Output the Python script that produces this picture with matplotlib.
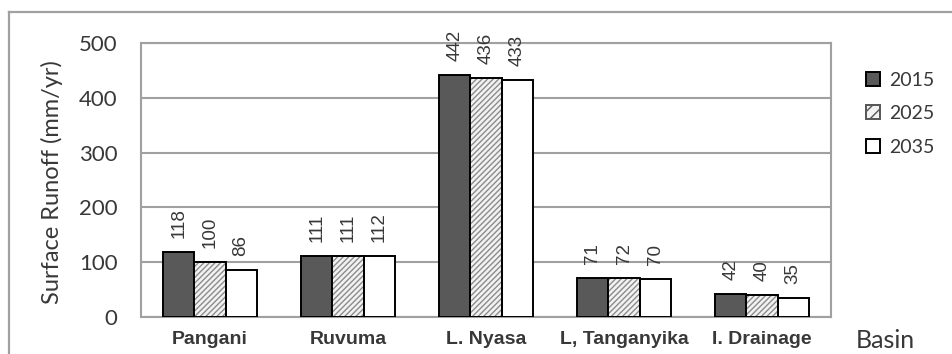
import numpy as np
import matplotlib.pyplot as plt
from matplotlib.lines import Line2D
from matplotlib.patches import Patch

# Surface runoff per basin for three scenario years
basins = ['Pangani', 'Ruvuma', 'L. Nyasa', 'L, Tanganyika', 'I. Drainage']
years = ['2015', '2025', '2035']
runoff_2015 = [118, 111, 442, 71, 42]
runoff_2025 = [100, 111, 436, 72, 40]
runoff_2035 = [86, 112, 433, 70, 35]
yticks = [0, 100, 200, 300, 400, 500]

grid_gray = '#a0a0a0'
text_gray = '#383838'

fig = plt.figure(figsize=(9.52, 3.54), dpi=100)
ax = fig.add_axes([141 / 952, 37 / 354, 690 / 952, 274 / 354])

x = np.arange(len(basins))
w = 0.225

# 2015: solid dark grey
ax.bar(x - w, runoff_2015, w, color='#595959', edgecolor='black', linewidth=1.4, zorder=3)
# 2025: grey diagonal hatch, drawn as hatch layer + black outline
ax.bar(x, runoff_2025, w, color='#f2f2f2', edgecolor='#8c8c8c', hatch='//////',
       linewidth=0, zorder=3)
ax.bar(x, runoff_2025, w, color='none', edgecolor='black', linewidth=1.4, zorder=4)
# 2035: white
ax.bar(x + w, runoff_2035, w, color='white', edgecolor='black', linewidth=1.4, zorder=3)

# rotated value labels above each bar
for offs, vals in zip([-w, 0, w], [runoff_2015, runoff_2025, runoff_2035]):
    for xi, v in zip(x + offs, vals):
        ax.annotate(str(v), (xi, v), xytext=(0, 10), textcoords='offset points',
                    rotation=90, ha='center', va='bottom', fontsize=13.5,
                    family='Liberation Sans', color=text_gray, annotation_clip=False)

ax.set_xlim(-0.5, len(basins) - 0.5)
ax.set_ylim(0, 500)
ax.set_yticks(yticks)
ax.set_yticklabels([str(t) for t in yticks], family='Lato', fontsize=16, color=text_gray)
ax.set_xticks(x)
ax.set_xticklabels(basins, family='Liberation Sans', fontweight='bold', fontsize=14,
                   color=text_gray)
ax.tick_params(axis='both', length=0)
ax.tick_params(axis='y', pad=17)
ax.tick_params(axis='x', pad=10)

ax.grid(axis='y', color=grid_gray, linewidth=1.5, zorder=0)
ax.set_axisbelow(True)
for sp in ax.spines.values():
    sp.set_color(grid_gray)
    sp.set_linewidth(1.5)

fig.text(52 / 952, 1 - 182 / 354, 'Surface Runoff (mm/yr)', rotation=90,
         ha='center', va='center', family='Lato', fontsize=17, color=text_gray)
fig.text(856 / 952, 1 - 341 / 354, 'Basin', ha='left', va='center',
         family='Lato', fontsize=18, color=text_gray)

handles = [
    Patch(facecolor='#595959', edgecolor='black', linewidth=1.4),
    Patch(facecolor='#f2f2f2', edgecolor='#555555', hatch='///', linewidth=1.4),
    Patch(facecolor='white', edgecolor='black', linewidth=1.4),
]
fig.legend(handles, years, loc='upper left', bbox_to_anchor=(848 / 952, 1 - 54 / 354),
           frameon=False, prop={'family': 'Lato', 'size': 14}, labelcolor=text_gray,
           handlelength=0.75, handleheight=0.75, handletextpad=0.45, labelspacing=0.85)

# outer chart frame (left and top edges)
fig.add_artist(Line2D([9 / 952, 9 / 952], [0, 1 - 12 / 354], color=grid_gray, linewidth=1.6,
                      transform=fig.transFigure))
fig.add_artist(Line2D([9 / 952, 1], [1 - 12 / 354, 1 - 12 / 354], color=grid_gray,
                      linewidth=1.6, transform=fig.transFigure))

fig.savefig('out.png', dpi=100)
